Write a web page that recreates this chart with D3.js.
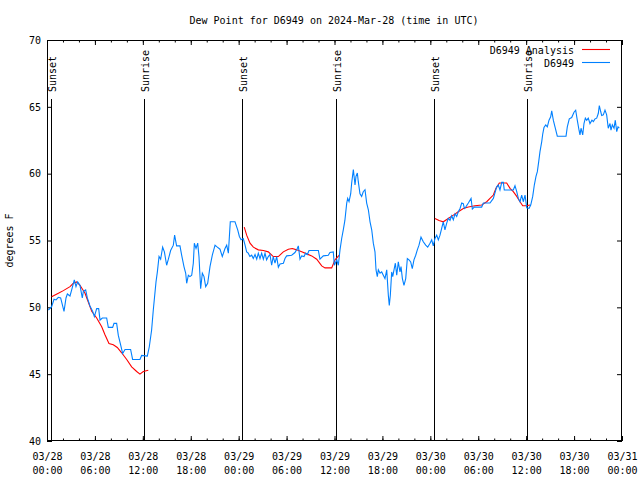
<!DOCTYPE html>
<html><head><meta charset="utf-8">
<script src="https://cdn.jsdelivr.net/npm/d3@7"></script>
<style>
body{margin:0;background:#fff}
text{font-family:"DejaVu Sans Mono","Liberation Mono",monospace;font-size:10px;fill:#000}
</style>
</head><body>
<svg id="chart" width="640" height="480"></svg>
<script>
// ---------------- data ----------------
const titleText = "Dew Point for D6949 on 2024-Mar-28 (time in UTC)";
const yLabel = "degrees F";
const startTime = "2024-03-28T00:00:00Z";
const spanHours = 72;
const yTicks = [40, 45, 50, 55, 60, 65, 70];
const xMajorHours = [0, 6, 12, 18, 24, 30, 36, 42, 48, 54, 60, 66, 72];
const xMinorHours = d3.range(0, 73, 2);
const seriesNames = ["D6949 Analysis", "D6949"];
const sunEvents = [
  {h: 0.56, label: "Sunset"}, {h: 12.18, label: "Sunrise"},
  {h: 24.46, label: "Sunset"}, {h: 36.23, label: "Sunrise"},
  {h: 48.50, label: "Sunset"}, {h: 60.14, label: "Sunrise"}
];
// observed dew point [hours since start, degF]
const observed = [
[0.17,49.8],[0.58,50.05],[0.88,50.6],[1.13,50.55],[1.42,50.75],[1.71,50.7],[2.13,49.7],[2.38,50.7],[2.55,51.0],[2.88,50.85],[3.09,51.3],[3.42,52.05],[3.63,51.55],[3.84,51.9],[4.13,51.65],[4.42,50.7],[4.55,51.2],[4.84,51.3],[5.05,50.7],[5.38,50.1],[5.72,49.7],[5.93,49.3],[6.22,49.9],[6.47,49.9],[6.64,49.05],[6.93,49.2],[7.47,49.2],[7.68,48.5],[8.22,48.5],[8.39,48.8],[8.72,48.8],[8.93,47.9],[9.22,47.2],[9.47,46.55],[9.77,46.85],[10.47,46.85],[10.72,46.1],[11.64,46.1],[11.85,46.4],[12.56,46.35],[12.81,47.05],[13.1,48.3],[13.31,49.8],[13.65,51.9],[13.82,52.65],[14.03,53.8],[14.23,53.6],[14.48,54.5],[14.7,54.15],[14.98,53.15],[15.2,53.6],[15.48,54.25],[15.82,54.65],[15.98,55.4],[16.23,54.6],[16.65,54.6],[16.86,53.9],[17.15,53.05],[17.37,52.55],[17.49,51.8],[17.7,52.4],[17.9,52.3],[18.12,52.4],[18.32,53.3],[18.45,54.8],[18.66,54.4],[18.87,54.8],[19.03,53.8],[19.16,52.3],[19.24,51.4],[19.45,52.55],[19.66,52.3],[19.87,51.55],[20.12,51.8],[20.41,53.05],[20.7,53.9],[21.04,54.65],[21.33,54.5],[21.66,54.35],[21.95,53.8],[22.29,54.4],[22.5,54.65],[22.71,54.05],[22.95,56.4],[23.54,56.4],[23.88,55.8],[24.09,55.3],[24.3,55.05],[24.58,55.15],[24.8,54.65],[25.0,54.15],[25.2,54.05],[25.4,53.8],[25.63,53.9],[25.83,53.65],[26.05,53.95],[26.26,53.6],[26.46,54.05],[26.67,53.65],[26.88,54.05],[27.09,53.6],[27.3,54.05],[27.5,53.55],[27.71,53.8],[27.92,53.95],[28.13,53.15],[28.33,53.8],[28.55,53.3],[28.76,53.8],[28.97,53.0],[29.18,53.25],[29.6,53.3],[29.8,53.65],[30.01,53.85],[30.64,53.9],[31.05,54.1],[31.34,54.4],[31.47,54.6],[31.68,53.6],[31.89,53.85],[32.18,53.8],[32.39,54.05],[32.6,53.95],[32.81,54.25],[33.98,54.25],[34.18,53.6],[34.6,53.85],[35.22,53.9],[35.43,54.1],[35.85,54.15],[35.98,53.15],[36.28,53.55],[36.48,53.15],[36.69,54.3],[36.9,55.15],[37.1,55.8],[37.3,56.5],[37.53,57.8],[37.65,58.15],[37.82,57.9],[38.03,58.5],[38.15,59.3],[38.36,60.3],[38.57,59.15],[38.69,59.8],[38.86,60.05],[38.98,59.4],[39.19,58.5],[39.4,58.3],[39.6,58.65],[39.82,58.8],[40.03,57.8],[40.24,57.3],[40.45,56.4],[40.66,55.8],[40.86,54.8],[41.07,54.15],[41.2,52.8],[41.36,52.3],[41.49,52.8],[41.7,52.55],[41.91,52.65],[42.11,52.4],[42.32,52.15],[42.54,52.8],[42.74,50.9],[42.86,50.15],[42.99,50.9],[43.16,52.65],[43.29,52.3],[43.45,52.8],[43.62,53.3],[43.79,52.4],[43.99,53.4],[44.2,52.65],[44.33,53.05],[44.5,52.15],[44.7,51.65],[44.92,52.15],[45.12,53.65],[45.33,53.55],[45.54,53.4],[45.74,52.9],[45.95,53.55],[46.17,53.9],[46.37,54.3],[46.58,54.65],[46.83,55.25],[47.12,54.9],[47.42,54.65],[47.67,54.5],[47.96,54.8],[48.17,55.05],[48.37,54.6],[48.58,55.15],[48.8,55.4],[49.0,55.05],[49.21,55.4],[49.42,55.9],[49.62,56.4],[49.83,55.8],[50.05,56.3],[50.25,56.65],[50.46,56.5],[50.67,56.85],[50.88,56.55],[51.09,57.0],[51.3,56.8],[51.5,57.15],[51.72,57.4],[51.93,57.8],[52.13,57.75],[52.26,57.4],[52.43,57.5],[52.76,57.8],[53.1,58.15],[53.26,57.35],[53.5,57.5],[54.43,57.5],[54.64,57.8],
[55.47,57.8],[55.89,58.15],[56.31,59.02],[56.51,59.15],[56.72,58.78],[56.94,59.35],[57.14,59.35],[57.26,58.78],[58.39,58.78],[58.6,59.1],[58.82,58.65],[59.02,58.15],[59.23,57.9],[59.44,58.4],[59.64,57.9],[59.86,58.4],[60.07,57.45],[60.36,57.4],[60.57,57.65],[60.82,58.3],[61.02,59.15],[61.23,59.8],[61.4,60.15],[61.57,60.9],[61.73,61.65],[61.95,62.4],[62.07,62.95],[62.23,63.45],[62.45,63.65],[62.65,63.5],[62.86,64.0],[63.07,64.25],[63.2,64.7],[63.4,64.0],[63.61,63.5],[63.9,62.8],[64.99,62.8],[65.15,63.5],[65.4,64.1],[65.7,64.2],[65.99,64.6],[66.2,64.75],[66.4,64.0],[66.62,63.25],[66.74,62.9],[66.87,63.4],[67.08,62.9],[67.24,63.75],[67.41,64.15],[67.58,64.0],[67.78,64.15],[67.99,63.75],[68.24,64.0],[68.41,63.9],[68.62,64.1],[68.83,64.15],[69.03,64.5],[69.16,65.1],[69.33,64.65],[69.46,64.35],[69.66,64.4],[69.87,64.75],[70.08,64.4],[70.28,63.4],[70.5,63.75],[70.62,63.25],[70.79,63.65],[71.0,63.4],[71.16,64.0],[71.34,63.15],[71.5,63.5],[71.66,63.4]
];
// analysis [hours, degF]; null value = gap between night segments
const analysis = [
[0.58,50.8],[1.42,51.05],[2.05,51.25],[2.88,51.55],[3.3,51.8],[3.72,51.9],[4.13,51.65],[4.76,51.05],[5.17,50.4],[5.6,49.7],[6.22,49.2],[6.85,48.55],[7.26,47.95],[7.76,47.3],[8.3,47.2],[8.8,47.0],[9.35,46.6],[9.98,46.1],[10.6,45.55],[11.23,45.2],[11.64,45.0],[12.06,45.2],[12.68,45.3],
[18,null],
[24.7,56.0],[25.0,55.4],[25.42,54.8],[25.84,54.5],[26.46,54.3],[27.09,54.25],[27.71,54.15],[28.33,53.8],[28.97,53.8],[29.59,54.15],[30.22,54.35],[30.72,54.4],[31.26,54.3],[31.89,54.15],[32.52,54.0],[33.15,53.85],[33.77,53.6],[34.4,53.1],[34.81,52.95],[35.65,52.95],[36.06,53.55],[36.6,53.9],
[42,null],
[48.58,56.65],[49.09,56.5],[49.62,56.4],[50.25,56.65],[50.88,56.9],[51.5,57.15],[52.13,57.4],[52.76,57.5],[53.59,57.6],[54.43,57.65],[55.06,57.9],[55.47,58.15],[55.89,58.4],[56.22,58.9],[56.64,59.3],[57.56,59.3],[57.98,58.9],[58.39,58.65],[58.82,58.3],[59.23,57.9],[59.57,57.6],[60.07,57.6],[60.48,57.65]
];

// ---------------- layout ----------------
const M = {left: 47, right: 622, top: 40, bottom: 441};
const colors = {analysis: "#ff0000", observed: "#0080ff"};

const t0 = new Date(startTime);
const toDate = h => new Date(t0.getTime() + h * 3600e3);

const x = d3.scaleUtc().domain([t0, toDate(spanHours)]).range([M.left, M.right]);
const y = d3.scaleLinear().domain([40, 70]).range([M.bottom, M.top]);

const svg = d3.select("#chart");

// title
svg.append("text").attr("x", 334).attr("y", 24).attr("text-anchor", "middle").text(titleText);

// y label
svg.append("text").attr("transform", "translate(13,240.5) rotate(-90)")
  .attr("text-anchor", "middle").text(yLabel);

const fmtDate = d3.utcFormat("%m/%d"), fmtTime = d3.utcFormat("%H:%M");

// bottom axis major
const gB = svg.append("g").attr("transform", `translate(0,${M.bottom})`)
  .call(d3.axisBottom(x).tickValues(xMajorHours.map(toDate)).tickSize(-5).tickSizeOuter(0));
gB.selectAll(".tick text").each(function(d) {
  const t = d3.select(this).attr("y", null).attr("dy", null).text(null);
  t.append("tspan").attr("x", 0).attr("y", 19).text(fmtDate(d));
  t.append("tspan").attr("x", 0).attr("y", 33).text(fmtTime(d));
});
// minor ticks bottom
svg.append("g").attr("transform", `translate(0,${M.bottom})`)
  .call(d3.axisBottom(x).tickValues(xMinorHours.map(toDate)).tickSize(-2.5).tickSizeOuter(0).tickFormat(""));
// top axis
svg.append("g").attr("transform", `translate(0,${M.top})`)
  .call(d3.axisTop(x).tickValues(xMajorHours.map(toDate)).tickSize(-5).tickSizeOuter(0).tickFormat(""));
svg.append("g").attr("transform", `translate(0,${M.top})`)
  .call(d3.axisTop(x).tickValues(xMinorHours.map(toDate)).tickSize(-2.5).tickSizeOuter(0).tickFormat(""));
// left / right axes
svg.append("g").attr("transform", `translate(${M.left},0)`)
  .call(d3.axisLeft(y).tickValues(yTicks).tickSize(-5).tickPadding(6).tickSizeOuter(0).tickFormat(d3.format("d")));
svg.append("g").attr("transform", `translate(${M.right},0)`)
  .call(d3.axisRight(y).tickValues(yTicks).tickSize(-5).tickSizeOuter(0).tickFormat(""));

svg.selectAll(".domain").remove();
svg.selectAll(".tick line").attr("stroke", "#000");
svg.selectAll(".tick text").attr("font-family", null).attr("font-size", null).attr("fill", "#000");

// border
svg.append("rect").attr("x", M.left + 0.5).attr("y", M.top + 0.5)
  .attr("width", M.right - M.left - 1).attr("height", M.bottom - M.top - 1)
  .attr("fill", "none").attr("stroke", "#000");

// sun events
const sunTop = 99;
const gs = svg.append("g");
sunEvents.forEach(e => {
  const px = Math.round(x(toDate(e.h))) + 0.5;
  gs.append("line").attr("x1", px).attr("x2", px).attr("y1", sunTop).attr("y2", M.bottom)
    .attr("stroke", "#000").attr("stroke-width", 1);
  gs.append("text").attr("transform", `translate(${px + 4.5},92) rotate(-90)`)
    .attr("text-anchor", "start").text(e.label);
});

// lines
const line = d3.line()
  .defined(d => d[1] !== null)
  .x(d => x(toDate(d[0])))
  .y(d => y(d[1]));

svg.append("path").datum(analysis).attr("fill", "none").attr("stroke", colors.analysis)
  .attr("stroke-width", 1.1).attr("d", line);
svg.append("path").datum(observed).attr("fill", "none").attr("stroke", colors.observed)
  .attr("stroke-width", 1.1).attr("d", line);

// legend
const lg = svg.append("g");
[[seriesNames[0], colors.analysis, 49.5], [seriesNames[1], colors.observed, 62.5]].forEach(([name, c, ly]) => {
  lg.append("text").attr("x", 574).attr("y", ly + 4).attr("text-anchor", "end").text(name);
  lg.append("line").attr("x1", 582).attr("x2", 610).attr("y1", ly).attr("y2", ly)
    .attr("stroke", c).attr("stroke-width", 1.1);
});
</script>
</body></html>
